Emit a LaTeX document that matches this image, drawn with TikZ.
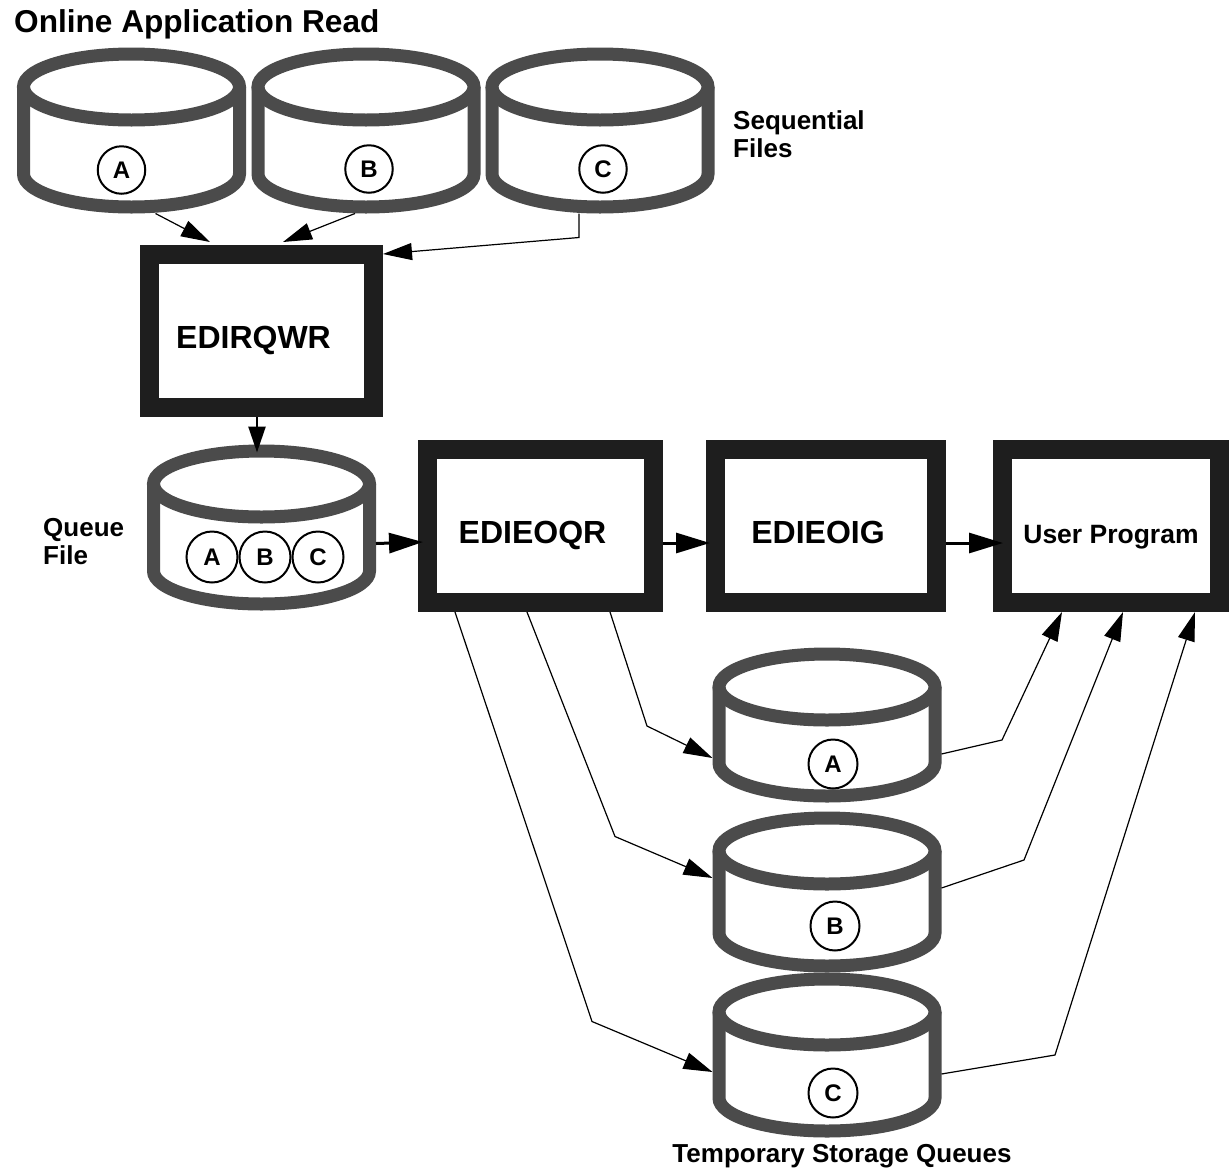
\documentclass[tikz,border=0pt]{standalone}
\usepackage{fontspec}
\setmainfont{Liberation Sans}
\usetikzlibrary{arrows.meta,calc}
\definecolor{drumgray}{HTML}{4B4B4B}
\definecolor{boxblack}{HTML}{1E1E1E}
\tikzstyle{prog} = [draw=boxblack, line width=19pt, minimum height=153pt, inner sep=0pt, outer sep=9.5pt,
  text height=35pt, text depth=0pt, font=\fontsize{32}{34}\selectfont\bfseries]
\tikzstyle{tag} = [draw, circle, line width=2pt, minimum size=47.5pt, inner sep=0pt,
  font=\fontsize{24}{26}\selectfont\bfseries]
\tikzstyle{note} = [align=left, inner sep=0pt, font=\fontsize{26}{28}\selectfont\bfseries]
\tikzstyle{feed} = [line width=1.2pt, -{Triangle[length=29pt,width=17pt]}]
\tikzstyle{drop} = [line width=2.5pt, -{Triangle[length=26pt,width=17pt]}]
\tikzstyle{flow} = [line width=3pt, -{Triangle[length=34pt,width=20pt]}]

\begin{document}
\begin{tikzpicture}[x=1pt, y=-1pt,
  pics/drum/.style={code={
    \draw[drumgray, line width=13pt] (-108,0) -- (-108,#1)
      arc[start angle=180, end angle=0, x radius=108, y radius=33] -- (108,0);
    \draw[drumgray, line width=13pt] (0,0) ellipse[x radius=108, y radius=33];
    \node[inner sep=0pt, outer sep=0pt, minimum width=229pt, minimum height=#1+79] (-b) at (0,#1/2) {};
  }}]
  \useasboundingbox (0,0) rectangle (1229,1168);

  \node[anchor=base west, inner sep=0pt, font=\fontsize{31.6}{34}\selectfont\bfseries] (title) at (14,32) {Online Application Read};

  % sequential files
  \pic (sa) at (131.5,87) {drum=87};
  \pic (sb) at (366,87) {drum=87};
  \pic (sc) at (600,87) {drum=87};
  \node[tag] (fa) at (121.5,170) {A};
  \node[tag] (fb) at (369,169) {B};
  \node[tag] (fc) at (603,169) {C};
  \node[note, anchor=west] (seq) at (733,134) {Sequential\\Files};

  \node[prog, minimum width=224pt] (rqwr) at (261.5,331) {\hspace*{-16pt}EDIRQWR};

  % queue file
  \pic (qf) at (261.5,484) {drum=87};
  \node[tag, minimum size=51pt] (qa) at (212,557) {A};
  \node[tag, minimum size=51pt] (qb) at (265,557) {B};
  \node[tag, minimum size=51pt] (qc) at (318,557) {C};
  \node[note, anchor=west] (queue) at (43,542) {Queue\\File};

  \node[prog, minimum width=226pt] (oqr) at (540.5,526) {\hspace*{-16pt}EDIEOQR};
  \node[prog, minimum width=221pt] (oig) at (826,526) {\hspace*{-16pt}EDIEOIG};
  \node[prog, minimum width=217pt, font=\fontsize{26.5}{28}\selectfont\bfseries] (user) at (1111,526) {User Program};

  % temporary storage queues
  \pic (tsa) at (827,687) {drum=76};
  \pic (tsb) at (827,851) {drum=82};
  \pic (tsc) at (827,1012) {drum=86};
  \node[tag, minimum size=49pt] (ta) at (833,764) {A};
  \node[tag, minimum size=49pt] (tb) at (835,926) {B};
  \node[tag, minimum size=49pt] (tc) at (833,1093) {C};
  \node[note, anchor=base] (tsq) at (842,1162) {Temporary Storage Queues};

  \draw[feed] ([xshift=24pt]sa-b.south) -- ([xshift=-51.5pt,yshift=3pt]rqwr.north);
  \draw[feed] ([xshift=-11pt]sb-b.south) -- ([xshift=21.5pt,yshift=3pt]rqwr.north);
  \draw[feed] ([xshift=-21pt]sc-b.south) -- ++(0,24) -- ([yshift=-9pt]rqwr.north east);
  \draw[drop] ([xshift=-4.5pt]rqwr.south) -- ([xshift=-4.5pt,yshift=-8pt]qf-b.north);

  \draw[flow] ([yshift=-16pt]qf-b.east) -- ([xshift=5pt,yshift=-16pt]oqr.west);
  \draw[flow] ([yshift=-17pt]oqr.east) -- ([xshift=4pt,yshift=-17pt]oig.west);
  \draw[flow] ([yshift=-17pt]oig.east) -- ([xshift=10pt,yshift=-17pt]user.west);

  \draw[feed] ([xshift=69.5pt]oqr.south) -- ++(37,114) -- ([yshift=-33pt]tsa-b.west);
  \draw[feed] ([xshift=-13.5pt]oqr.south) -- ++(88,224.5) -- ([yshift=14pt]tsb-b.west);
  \draw[feed] ([xshift=-85.5pt]oqr.south) -- ++(137,409.5) -- ([yshift=-17pt]tsc-b.west);

  \draw[feed] ([yshift=-29pt]tsa-b.east) -- ++(60.5,-14) -- ([xshift=-49pt]user.south);
  \draw[feed] ([yshift=4pt]tsb-b.east) -- ++(82.5,-28) -- ([xshift=12pt]user.south);
  \draw[feed] ([yshift=-19pt]tsc-b.east) -- ++(113.5,-19) -- ([xshift=84pt]user.south);
\end{tikzpicture}
\end{document}
